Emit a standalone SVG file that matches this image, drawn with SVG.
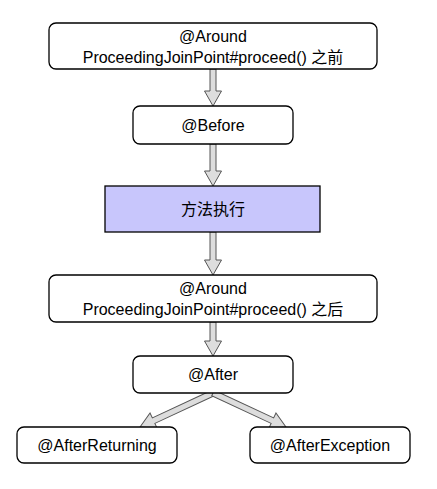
<svg xmlns="http://www.w3.org/2000/svg" width="437" height="489" viewBox="0 0 437 489">
<style>
.box{fill:#ffffff;stroke:#000000;stroke-width:1.3}
.proc{fill:#c8c6fc;stroke:#000000;stroke-width:1.3}
.arr{fill:#dddddd;stroke:#555555;stroke-width:1;stroke-linejoin:miter}
text{font-family:"Liberation Sans","Noto Sans CJK SC",Arial,sans-serif;font-size:16px;fill:#000000;text-anchor:middle}
</style>
<rect width="437" height="489" fill="#ffffff"/>
<g id="connectors">
<polygon class="arr" points="210,69 216,69 216,91 221.5,91 213,106 204.5,91 210,91"/>
<polygon class="arr" points="210,144 216,144 216,171 221.5,171 213,186 204.5,171 210,171"/>
<polygon class="arr" points="210,232 216,232 216,260 221.5,260 213,275 204.5,260 210,260"/>
<polygon class="arr" points="210,322 216,322 216,341 221.5,341 213,356 204.5,341 210,341"/>
<polygon class="arr" transform="translate(213,393) rotate(155.03)" points="0,-3 65.5,-3 65.5,-8.5 80.5,0 65.5,8.5 65.5,3 0,3"/>
<polygon class="arr" transform="translate(213,393) rotate(24.97)" points="0,-3 65.5,-3 65.5,-8.5 80.5,0 65.5,8.5 65.5,3 0,3"/>
</g>
<g id="around-before">
<rect class="box" x="49" y="23" width="328" height="46" rx="7"/>
<text x="213" y="42">@Around</text>
<text x="213" y="63">ProceedingJoinPoint#proceed() 之前</text>
</g>
<g id="before">
<rect class="box" x="133" y="106" width="160" height="38" rx="7"/>
<text x="213" y="131">@Before</text>
</g>
<g id="method">
<rect class="proc" x="105" y="186" width="215" height="46"/>
<text x="213" y="215">方法执行</text>
</g>
<g id="around-after">
<rect class="box" x="49" y="275" width="328" height="47" rx="7"/>
<text x="213" y="294">@Around</text>
<text x="213" y="315">ProceedingJoinPoint#proceed() 之后</text>
</g>
<g id="after">
<rect class="box" x="133" y="356" width="160" height="37" rx="7"/>
<text x="213" y="380">@After</text>
</g>
<g id="after-returning">
<rect class="box" x="17" y="427" width="160" height="36" rx="7"/>
<text x="97" y="451">@AfterReturning</text>
</g>
<g id="after-exception">
<rect class="box" x="250" y="427" width="160" height="36" rx="7"/>
<text x="330" y="451">@AfterException</text>
</g>
</svg>
